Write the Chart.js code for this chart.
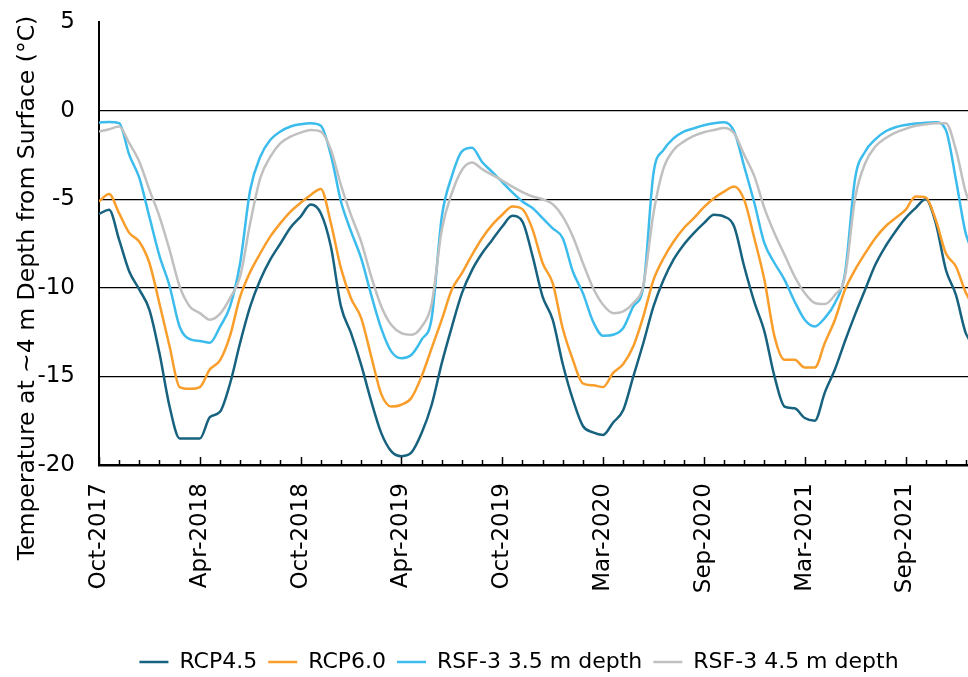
<!DOCTYPE html>
<html>
<head>
<meta charset="utf-8">
<script src="https://cdn.jsdelivr.net/npm/chart.js@4.4.1/dist/chart.umd.min.js"></script>
<style>
  html, body { margin: 0; padding: 0; background: #fff; overflow: hidden; }
  /* o gráfico é mais largo que a janela; a parte direita fica cortada */
  #janela { width: 968px; height: 677px; overflow: hidden; }
  #wrap { width: 1038px; height: 677px; position: relative; }
</style>
</head>
<body>
<div id="janela"><div id="wrap"><canvas id="graficoTemperatura"></canvas></div></div>
<script>
// Rótulos do eixo X (um a cada 10 amostras, ~6 meses)
const rotulosX = ['Oct-2017', 'Apr-2018', 'Oct-2018', 'Apr-2019', 'Oct-2019',
                  'Mar-2020', 'Sep-2020', 'Mar-2021', 'Sep-2021'];
const AMOSTRAS_POR_ROTULO = 10;

// Temperaturas (°C) a ~4 m, uma amostra a cada ~18 dias
const rcp45 = [
  -5.83, -5.6, -7.3, -9.08, -10.1, -11.24, -13.7, -16.7, -18.5, -18.5,
  -18.5, -17.3, -17.0, -15.4, -13.1, -11.05, -9.55, -8.4, -7.5, -6.6,
  -5.98, -5.3, -5.79, -7.67, -11.05, -12.56, -14.34, -16.4, -18.2, -19.23,
  -19.5, -19.29, -18.2, -16.6, -14.25, -12.2, -10.3, -9.0, -8.05, -7.3,
  -6.54, -5.94, -6.26, -8.2, -10.5, -11.8, -14.3, -16.3, -17.8, -18.16,
  -18.3, -17.6, -16.9, -15.0, -13.1, -11.05, -9.55, -8.4, -7.57, -6.92,
  -6.35, -5.88, -5.98, -6.54, -8.8, -10.8, -12.46, -15.0, -16.7, -16.8,
  -17.35, -17.5, -15.9, -14.6, -13.0, -11.5, -10.1, -8.7, -7.67, -6.82,
  -6.07, -5.5, -5.0, -6.35, -8.98, -10.4, -12.6, -13.3
];
const rcp60 = [
  -5.13, -4.7, -5.8, -6.9, -7.4, -8.6, -10.9, -13.3, -15.6, -15.7,
  -15.6, -14.6, -14.1, -12.7, -10.5, -9.1, -8.05, -7.1, -6.35, -5.7,
  -5.2, -4.76, -4.42, -6.35, -8.9, -10.6, -11.7, -13.87, -16.0, -16.7,
  -16.6, -16.2, -15.0, -13.4, -11.8, -10.1, -9.17, -8.14, -7.2, -6.45,
  -5.88, -5.41, -5.56, -6.7, -8.6, -9.74, -12.3, -14.06, -15.4, -15.5,
  -15.6, -14.8, -14.3, -13.3, -11.6, -9.55, -8.33, -7.39, -6.64, -6.07,
  -5.45, -4.94, -4.57, -4.28, -5.04, -7.2, -9.55, -12.74, -14.06, -14.06,
  -14.5, -14.5, -13.1, -11.8, -10.1, -8.98, -8.05, -7.2, -6.54, -6.07,
  -5.6, -4.85, -4.9, -6.17, -8.05, -8.8, -10.3, -11.24
];
const rsf3Prof35 = [
  -0.68, -0.64, -0.71, -2.5, -3.8, -6.0, -8.2, -9.9, -12.2, -12.9,
  -13.0, -13.1, -12.2, -11.05, -8.6, -4.47, -2.6, -1.65, -1.18, -0.9,
  -0.77, -0.71, -0.85, -2.5, -5.13, -6.82, -8.33, -10.4, -12.3, -13.6,
  -13.97, -13.78, -12.93, -11.7, -6.0, -3.7, -2.3, -2.1, -2.9, -3.46,
  -4.04, -4.62, -5.13, -5.5, -6.07, -6.64, -7.2, -9.08, -10.3, -11.9,
  -12.7, -12.65, -12.27, -11.05, -9.92, -3.53, -2.22, -1.56, -1.18, -1.0,
  -0.83, -0.71, -0.66, -1.18, -3.16, -5.2, -7.48, -8.6, -9.55, -10.77,
  -11.8, -12.18, -11.7, -10.86, -9.17, -3.82, -2.31, -1.62, -1.18, -0.94,
  -0.81, -0.73, -0.68, -0.66, -1.09, -3.9, -7.0, -8.2
];
const rsf3Prof45 = [
  -1.18, -1.05, -0.9, -1.84, -2.88, -4.47, -5.98, -7.86, -9.92, -11.05,
  -11.43, -11.8, -11.47, -10.58, -9.36, -6.35, -3.8, -2.6, -1.84, -1.47,
  -1.24, -1.09, -1.18, -2.2, -4.2, -5.9, -7.39, -9.36, -11.05, -12.1,
  -12.56, -12.65, -12.2, -10.9, -6.73, -4.66, -3.35, -2.93, -3.3, -3.63,
  -3.95, -4.29, -4.6, -4.85, -5.0, -5.28, -5.98, -7.1, -8.6, -10.0,
  -10.96, -11.43, -11.33, -10.86, -9.83, -5.79, -3.25, -2.22, -1.75, -1.43,
  -1.22, -1.09, -0.98, -1.28, -2.5, -3.7, -5.5, -6.92, -8.14, -9.36,
  -10.3, -10.86, -10.92, -10.4, -9.36, -4.94, -2.97, -2.03, -1.56, -1.24,
  -1.03, -0.86, -0.77, -0.71, -0.71, -2.22, -4.66, -5.98
];

const FONTE = '"DejaVu Sans", sans-serif';
const TAM_FONTE = 23;

// Converte uma série em pontos {x, y} (x = índice da amostra)
function paraPontos(valores) {
  return valores.map((v, i) => ({ x: i, y: v }));
}

function criarSerie(rotulo, valores, cor, ordem) {
  return {
    label: rotulo,
    data: paraPontos(valores),
    borderColor: cor,
    backgroundColor: cor,
    borderWidth: 2.5,
    pointRadius: 0,
    cubicInterpolationMode: 'monotone',
    fill: false,
    order: ordem
  };
}

// Marcas do eixo X desenhadas para dentro da área do gráfico
const marcasEixoX = {
  id: 'marcasEixoX',
  afterDatasetsDraw(chart) {
    const { ctx, chartArea } = chart;
    const escala = chart.scales.x;
    ctx.save();
    ctx.strokeStyle = '#000';
    ctx.lineWidth = 1.5;
    escala.ticks.forEach(t => {
      const px = Math.round(escala.getPixelForValue(t.value)) + 0.5;
      const tam = t.value % AMOSTRAS_POR_ROTULO === 0 ? 8 : 5;
      ctx.beginPath();
      ctx.moveTo(px, chartArea.bottom);
      ctx.lineTo(px, chartArea.bottom - tam);
      ctx.stroke();
    });
    ctx.restore();
  }
};

// Título do eixo Y
const tituloEixoY = {
  id: 'tituloEixoY',
  afterDraw(chart) {
    const { ctx } = chart;
    ctx.save();
    ctx.translate(28, 288);
    ctx.rotate(-Math.PI / 2);
    ctx.font = '23.5px ' + FONTE;
    ctx.fillStyle = '#000';
    ctx.textAlign = 'center';
    ctx.textBaseline = 'middle';
    ctx.fillText('Temperature at ~4 m Depth from Surface (°C)', 0, 0);
    ctx.restore();
  }
};

const ctx = document.getElementById('graficoTemperatura').getContext('2d');

new Chart(ctx, {
  type: 'line',
  data: {
    datasets: [
      criarSerie('RCP4.5', rcp45, '#17627f', 3),
      criarSerie('RCP6.0', rcp60, '#f99d2b', 2),
      criarSerie('RSF-3 3.5 m depth', rsf3Prof35, '#3bbcec', 1),
      criarSerie('RSF-3 4.5 m depth', rsf3Prof45, '#c0c0c0', 0)
    ]
  },
  options: {
    responsive: true,
    maintainAspectRatio: false,
    animation: false,
    layout: { padding: { top: 22, left: 0, right: 0, bottom: 0 } },
    plugins: {
      legend: {
        position: 'bottom',
        maxHeight: 37,
        labels: {
          usePointStyle: true,
          pointStyle: 'line',
          pointStyleWidth: 29,
          padding: 11,
          color: '#000',
          font: { family: FONTE, size: 22 },
          sort: (a, b) => a.datasetIndex - b.datasetIndex
        }
      },
      tooltip: { enabled: false }
    },
    scales: {
      x: {
        type: 'linear',
        min: 0,
        max: 93.14,
        afterBuildTicks(escala) {
          const ticks = [];
          for (let v = 0; v <= escala.max; v += 2) ticks.push({ value: v });
          escala.ticks = ticks;
        },
        afterFit(escala) {
          escala.height = 175;
          escala.paddingLeft = 0;
          escala.paddingRight = 0;
        },
        grid: { drawOnChartArea: false, drawTicks: false },
        border: { color: '#000', width: 2.5 },
        ticks: {
          autoSkip: false,
          minRotation: 90,
          maxRotation: 90,
          padding: 18,
          color: '#000',
          font: { family: FONTE, size: TAM_FONTE },
          callback: function(valor) {
            const k = valor / AMOSTRAS_POR_ROTULO;
            return (valor % AMOSTRAS_POR_ROTULO === 0 && rotulosX[k]) ? rotulosX[k] : '';
          }
        }
      },
      y: {
        min: -20,
        max: 5,
        afterFit(escala) {
          escala.width = 99;
          escala.paddingTop = 0;
          escala.paddingBottom = 0;
        },
        grid: {
          drawTicks: false,
          lineWidth: 1.3,
          color: c => (c.tick && c.tick.value === 5) ? 'rgba(0,0,0,0)' : '#000'
        },
        border: { color: '#000', width: 2 },
        ticks: {
          stepSize: 5,
          padding: 24,
          color: '#000',
          font: { family: FONTE, size: TAM_FONTE }
        }
      }
    }
  },
  plugins: [marcasEixoX, tituloEixoY]
});
</script>
</body>
</html>
